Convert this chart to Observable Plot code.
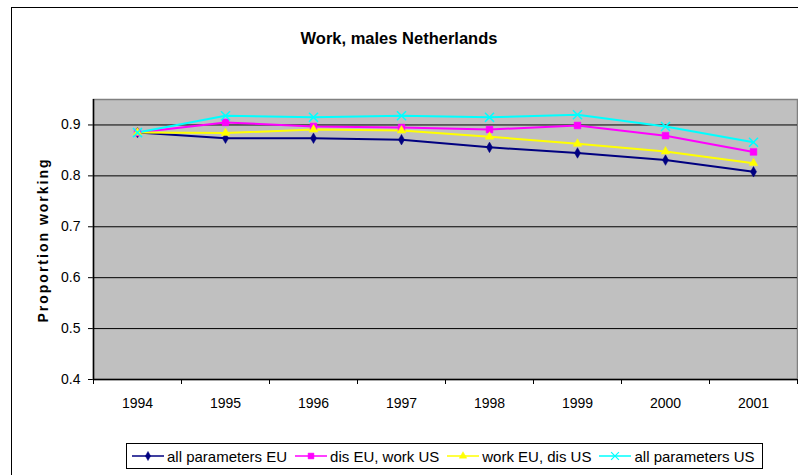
<!DOCTYPE html>
<html>
<head>
<meta charset="utf-8">
<script src="https://cdn.jsdelivr.net/npm/d3@7"></script>
<script src="https://cdn.jsdelivr.net/npm/@observablehq/plot@0.6"></script>
<style>
  html, body { margin: 0; padding: 0; background: #fff; overflow: hidden; }
  #wrap { position: relative; width: 798px; height: 475px; overflow: hidden; font-family: "Liberation Sans", Arial, sans-serif; }
  #border { position: absolute; left: 11px; top: 7px; width: 820px; height: 500px; border-top: 1.5px solid #000; border-left: 1.5px solid #000; box-sizing: border-box; }
  #chart { position: absolute; left: 0; top: 0; }
  #chart svg text { font-size: 14px; }
  #title { position: absolute; left: 0; width: 798px; top: 29px; text-align: center; font-weight: bold; font-size: 16.5px; color: #000; }
  #ylabel { position: absolute; left: 43px; top: 240px; transform: translate(-50%, -50%) rotate(-90deg); white-space: nowrap; font-weight: bold; font-size: 14px; letter-spacing: 2px; color: #000; }
  #legend { position: absolute; left: 126px; top: 443px; width: 637px; height: 26px; box-sizing: border-box; border: 1px solid #000; display: flex; align-items: center; padding-left: 5px; font-size: 15px; color: #000; white-space: nowrap; }
  .item { display: flex; align-items: center; margin-right: 8px; }
  .item svg { margin-right: 3px; }
</style>
</head>
<body>
<div id="wrap">
  <div id="border"></div>
  <div id="chart"></div>
  <div id="title"></div>
  <div id="ylabel"></div>
  <div id="legend"></div>
</div>
<script>
// ---- data ----
const years = [1994, 1995, 1996, 1997, 1998, 1999, 2000, 2001];
const allParamsEU   = [0.885, 0.874, 0.874, 0.871, 0.856, 0.845, 0.831, 0.808];
const disEUworkUS   = [0.885, 0.905, 0.897, 0.895, 0.891, 0.899, 0.879, 0.847];
const workEUdisUS   = [0.885, 0.884, 0.891, 0.889, 0.877, 0.863, 0.848, 0.825];
const allParamsUS   = [0.885, 0.918, 0.915, 0.918, 0.915, 0.920, 0.897, 0.866];
const seriesNames = ["all parameters EU", "dis EU, work US", "work EU, dis US", "all parameters US"];
const seriesColors = ["#000080", "#FF00FF", "#FFFF00", "#00FFFF"];
const seriesSymbols = ["diamond", "square", "triangle", "times"];
const yTicks = [0.4, 0.5, 0.6, 0.7, 0.8, 0.9];
const titleText = "Work, males Netherlands";
const yLabelText = "Proportion working";

// ---- build ----
const seriesValues = [allParamsEU, disEUworkUS, workEUdisUS, allParamsUS];
const table = [];
seriesNames.forEach((s, i) => years.forEach((yr, j) => table.push({series: s, year: yr, value: seriesValues[i][j]})));
const boundaries = [years[0] - 0.5, ...years.map(y => y + 0.5)];
const markerR = {"diamond": 3.2, "square": 3.8, "triangle": 3.2, "times": 4.2};

const marks = [
  Plot.frame({fill: "#C0C0C0", stroke: "#808080", strokeWidth: 1.5}),
  Plot.ruleY(yTicks, {stroke: "#000", strokeWidth: 1}),
  Plot.ruleX([boundaries[0]], {stroke: "#000", strokeWidth: 1.5}),
  Plot.ruleY([yTicks[0]], {stroke: "#000", strokeWidth: 1.5}),
  Plot.ruleX(boundaries, {y1: yTicks[0], y2: yTicks[0], insetBottom: -5, stroke: "#000"}),
  Plot.text(years, {x: d => d, frameAnchor: "bottom", dy: 28, text: d => String(d), fontSize: 14, fill: "#000"}),
  Plot.line(table, {x: "year", y: "value", z: "series", stroke: "series", strokeWidth: 2})
];
seriesNames.forEach((s, i) => {
  const sym = seriesSymbols[i];
  const filled = sym !== "times";
  marks.push(Plot.dot(table.filter(d => d.series === s), {
    x: "year", y: "value", symbol: () => sym, r: markerR[sym],
    fill: filled ? seriesColors[i] : "none",
    stroke: seriesColors[i], strokeWidth: filled ? 0.5 : 1.5
  }));
});

const chart = Plot.plot({
  width: 798, height: 475,
  marginLeft: 93, marginRight: 1, marginTop: 99, marginBottom: 96,
  style: {fontFamily: "'Liberation Sans', Arial, sans-serif", fontSize: "14px", background: "transparent", color: "#000", overflow: "visible"},
  x: {domain: [boundaries[0], boundaries[boundaries.length - 1]], axis: null},
  y: {domain: [0.4, 0.95], ticks: yTicks, tickSize: 5, tickPadding: 8, tickFormat: ".1f", label: null, line: false},
  color: {domain: seriesNames, range: seriesColors},
  symbol: {domain: seriesSymbols, range: seriesSymbols},
  marks
});
document.getElementById("chart").appendChild(chart);
document.getElementById("title").textContent = titleText;
document.getElementById("ylabel").textContent = yLabelText;

// legend
const legend = document.getElementById("legend");
seriesNames.forEach((s, i) => {
  const item = document.createElement("div");
  item.className = "item";
  const sym = seriesSymbols[i];
  const filled = sym !== "times";
  const sw = d3.create("svg").attr("width", 32).attr("height", 12);
  sw.append("line").attr("x1", 0).attr("x2", 32).attr("y1", 6).attr("y2", 6).attr("stroke", seriesColors[i]).attr("stroke-width", 1.5);
  const symType = {diamond: d3.symbolDiamond, square: d3.symbolSquare, triangle: d3.symbolTriangle, times: d3.symbolTimes}[sym];
  sw.append("path").attr("transform", "translate(16,6)")
    .attr("d", d3.symbol(symType, Math.PI * markerR[sym] * markerR[sym] * 0.75)())
    .attr("fill", filled ? seriesColors[i] : "none")
    .attr("stroke", seriesColors[i]).attr("stroke-width", filled ? 0.5 : 1.2);
  item.appendChild(sw.node());
  const t = document.createElement("span");
  t.textContent = s;
  item.appendChild(t);
  legend.appendChild(item);
});
</script>
</body>
</html>
